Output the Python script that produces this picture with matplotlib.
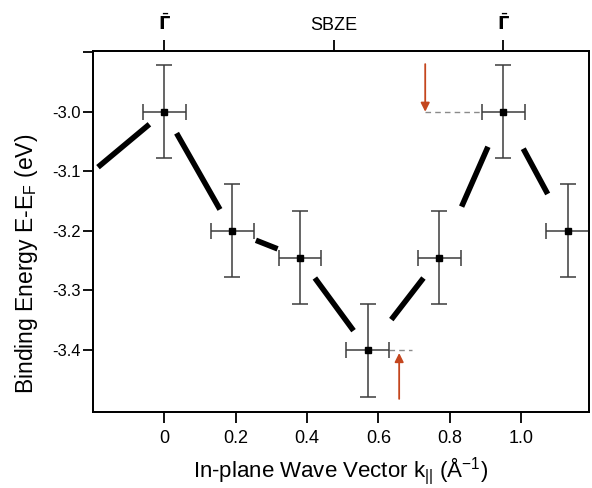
import matplotlib
matplotlib.use("Agg")
import matplotlib.pyplot as plt
import numpy as np

plt.rcParams['font.family'] = ['Liberation Sans', 'DejaVu Sans']
plt.rcParams['mathtext.fontset'] = 'dejavusans'

# Measured band positions
k_vals = [0.0, 0.19, 0.38, 0.57, 0.77, 0.95, 1.13]
energy = [-3.0, -3.2, -3.245, -3.4, -3.245, -3.0, -3.2]
k_err = [0.06, 0.06, 0.06, 0.06, 0.06, 0.06, 0.06]
e_err = [0.078, 0.078, 0.078, 0.078, 0.078, 0.078, 0.078]

# Guide-to-the-eye dispersion line
line_k = [-0.2, 0.0, 0.19, 0.38, 0.57, 0.77, 0.95, 1.13]
line_e = [-3.1, -3.0, -3.2, -3.245, -3.4, -3.245, -3.0, -3.2]
# visible part of each segment (fraction along the segment)
seg_start = [0.07, 0.18, 0.35, 0.22, 0.33, 0.35, 0.31]
seg_end = [0.79, 0.82, 0.67, 0.79, 0.78, 0.76, 0.69]

# Red markers at band extrema
arrow_k = [0.731, 0.658]
arrow_from = [-2.92, -3.482]
arrow_to = [-3.0, -3.405]
guide_k0 = [0.731, 0.63]
guide_k1 = [0.89, 0.695]
guide_e = [-3.0, -3.4]

x_ticks = [0.0, 0.2, 0.4, 0.6, 0.8, 1.0]
x_ticklabels = ['0', '0.2', '0.4', '0.6', '0.8', '1.0']
y_ticks = [-2.9, -3.0, -3.1, -3.2, -3.3, -3.4]
y_ticklabels = ['', '-3.0', '-3.1', '-3.2', '-3.3', '-3.4']
top_ticks = [0.0, 0.475, 0.95]
top_labels = [r'$\bar{\mathbf{\Gamma}}$', 'SBZE', r'$\bar{\mathbf{\Gamma}}$']

fig = plt.figure(figsize=(5.92, 4.88), dpi=100)
ax = fig.add_axes([93 / 592, 1 - 412 / 488, (589 - 93) / 592, (412 - 51) / 488])

# thick dashed dispersion segments
for i in range(len(line_k) - 1):
    x0, x1 = line_k[i], line_k[i + 1]
    y0, y1 = line_e[i], line_e[i + 1]
    a, b = seg_start[i], seg_end[i]
    ax.plot([x0 + a * (x1 - x0), x0 + b * (x1 - x0)],
            [y0 + a * (y1 - y0), y0 + b * (y1 - y0)],
            color='black', lw=4.0, solid_capstyle='butt', zorder=2)

ax.errorbar(k_vals, energy, xerr=k_err, yerr=e_err, fmt='s', color='black',
            markersize=4.2, ecolor='#3c3c3c', elinewidth=1.1, capsize=5.8,
            capthick=1.1, zorder=3)

for xk, e0, e1 in zip(arrow_k, arrow_from, arrow_to):
    ax.annotate('', xy=(xk, e1), xytext=(xk, e0),
                arrowprops=dict(arrowstyle='-|>', color='#c4461e', lw=1.3,
                                mutation_scale=13, shrinkA=0, shrinkB=0))

for g0, g1, ge in zip(guide_k0, guide_k1, guide_e):
    ax.plot([g0, g1], [ge, ge], color='#8a8a8a', lw=1.0, ls=(0, (4, 3)), zorder=1)

ax.set_xlim(-0.2, 1.19)
ax.set_ylim(-3.504, -2.898)
ax.set_xticks(x_ticks)
ax.set_xticklabels(x_ticklabels)
ax.set_yticks(y_ticks)
ax.set_yticklabels(y_ticklabels)

for sp in ax.spines.values():
    sp.set_linewidth(1.3)
ax.tick_params(axis='x', direction='out', length=8, width=1.3, labelsize=13, pad=5)
ax.tick_params(axis='y', direction='out', length=7, width=1.3, labelsize=12, pad=2)

ax.set_xlabel(r'In-plane Wave Vector k$_\mathregular{||}$ (Å$^\mathregular{-1}$)',
              fontsize=16, labelpad=6)
ax.set_ylabel(r'Binding Energy E-E$_\mathregular{F}$ (eV)', fontsize=16.5)
ax.yaxis.set_label_coords(-0.106, 0.41)

top = ax.twiny()
top.set_xlim(ax.get_xlim())
top.set_xticks(top_ticks)
top.set_xticklabels(top_labels, fontsize=13)
top.tick_params(axis='x', direction='out', length=8, width=1.3, pad=4)
for sp in top.spines.values():
    sp.set_linewidth(1.3)

fig.savefig('out.png', dpi=100)
